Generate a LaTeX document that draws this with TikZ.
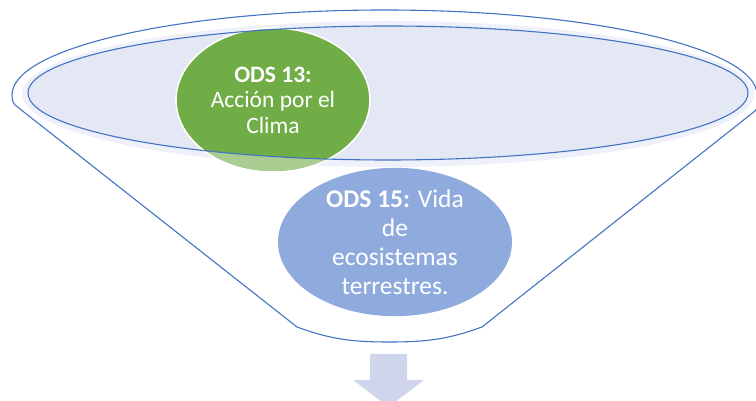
\documentclass[tikz,border=0pt]{standalone}
\usepackage{fontspec}
\setmainfont{Carlito}
\usetikzlibrary{shapes.geometric}
\definecolor{FunLine}{HTML}{4472C4}
\definecolor{FunFill}{HTML}{E3E8F4}
\definecolor{FunHalo}{HTML}{EEF1F9}
\definecolor{OdsGreen}{HTML}{70AD47}
\definecolor{OdsBlue}{HTML}{8FAADC}
\definecolor{ArrowFill}{HTML}{CFD6EB}
\begin{document}
\begin{tikzpicture}[x=1pt,y=1pt,
 odsnode/.style={ellipse,text=white,align=center,inner sep=0pt},
 funline/.style={draw=FunLine,line width=1.1pt}]
\useasboundingbox (0,0) rectangle (756,401);
\clip (0,0) rectangle (756,401);
\fill[FunHalo] (388,307) ellipse[x radius=366,y radius=73];
\fill[FunFill] (388,308) ellipse[x radius=360,y radius=67];
\node[odsnode,fill=OdsGreen,draw=white,line width=1.5pt,minimum width=194pt,minimum height=144pt,font=\fontsize{23.5}{25.5}\selectfont] (g) at (273,301) {\textbf{ODS 13:}\\Acción por el\\Clima};
\begin{scope}
\clip (g.center) ellipse[x radius=96,y radius=71];
\fill[white,opacity=.4,even odd rule] (0,0) rectangle (756,401) (388,308) ellipse[x radius=360,y radius=67];
\end{scope}
\draw[funline] (388,308) ellipse[x radius=360,y radius=67];
\draw[funline] (12,306) arc[start angle=180,end angle=0,x radius=372.5,y radius=85] to[out=-90,in=38] (755,290) -- (482,74) to[out=200,in=0] (389,59) to[out=180,in=-20] (297,74) -- (15,296) to[out=128,in=-90] cycle;
\node[odsnode,fill=OdsBlue,minimum width=234pt,minimum height=140pt,font=\fontsize{25.5}{29}\selectfont] (b) at (395,159) {\textbf{ODS 15:} Vida\\de\\ecosistemas\\terrestres.};
\fill[ArrowFill] (370,47) -- (407,47) -- (407,21) -- (424,21) -- (388.5,-6) -- (353,21) -- (370,21) -- cycle;
\end{tikzpicture}
\end{document}
